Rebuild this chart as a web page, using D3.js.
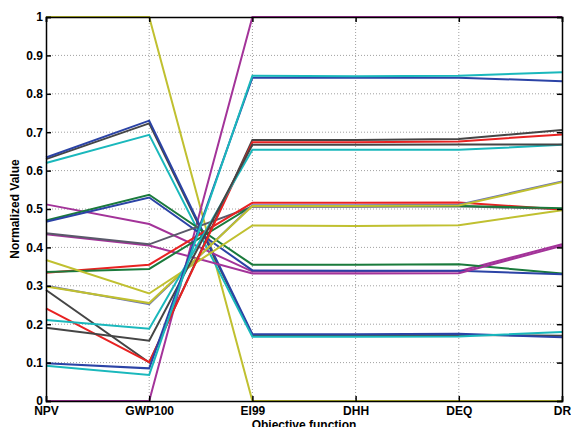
<!DOCTYPE html>
<html>
<head>
<meta charset="utf-8">
<script src="https://cdn.jsdelivr.net/npm/d3@7"></script>
<style>
  body { margin: 0; background: #fff; }
  text { font-family: "Liberation Sans", Arial, sans-serif; font-weight: bold; }
</style>
</head>
<body>
<svg id="chart" width="571" height="427"></svg>
<script>
/* Parallel plot of normalized objective values */
const categories = ["NPV", "GWP100", "EI99", "DHH", "DEQ", "DR"]
const yTickValues = [0, 0.1, 0.2, 0.3, 0.4, 0.5, 0.6, 0.7, 0.8, 0.9, 1]

const seriesColors = [
    "#c0c030", "#a33399", "#454545", "#2b43a6", "#1ab8bc", "#a33399", "#1a7a3c",
    "#2b43a6", "#a33399", "#5a5a6a", "#e82222", "#1a7a3c", "#c0c030", "#6a72b8",
    "#c0c030", "#454545", "#e82222", "#1ab8bc", "#454545", "#2b43a6", "#1ab8bc"
]

const seriesValues = [
    [1, 1, 0, 0, 0, 0],
    [0, 0, 1, 1, 1, 1],
    [0.630, 0.723, 0.171, 0.171, 0.172, 0.170],
    [0.634, 0.730, 0.174, 0.174, 0.175, 0.166],
    [0.620, 0.693, 0.167, 0.167, 0.168, 0.180],
    [0.512, 0.461, 0.337, 0.337, 0.338, 0.408],
    [0.470, 0.537, 0.355, 0.355, 0.356, 0.332],
    [0.467, 0.530, 0.340, 0.339, 0.339, 0.330],
    [0.434, 0.405, 0.332, 0.332, 0.333, 0.404],
    [0.437, 0.408, 0.506, 0.506, 0.507, 0.500],
    [0.334, 0.355, 0.516, 0.516, 0.517, 0.499],
    [0.336, 0.344, 0.508, 0.508, 0.508, 0.502],
    [0.367, 0.280, 0.457, 0.456, 0.458, 0.497],
    [0.300, 0.252, 0.510, 0.510, 0.511, 0.572],
    [0.298, 0.255, 0.508, 0.508, 0.509, 0.570],
    [0.289, 0.100, 0.680, 0.680, 0.682, 0.706],
    [0.241, 0.101, 0.674, 0.674, 0.676, 0.694],
    [0.211, 0.188, 0.654, 0.654, 0.654, 0.667],
    [0.191, 0.157, 0.667, 0.667, 0.668, 0.668],
    [0.098, 0.085, 0.842, 0.842, 0.842, 0.833],
    [0.092, 0.068, 0.847, 0.846, 0.847, 0.856]
]

const plotLeft = 46, plotRight = 562, plotTop = 17, plotBottom = 401

const x = d3.scalePoint().domain(categories).range([plotLeft, plotRight])
const y = d3.scaleLinear().domain([0, 1]).range([plotBottom, plotTop])

const svg = d3.select("#chart")

// grid
svg.append("g")
    .selectAll("line")
    .data(yTickValues.slice(1, -1))
    .enter()
    .append("line")
    .attr("x1", plotLeft).attr("x2", plotRight)
    .attr("y1", d => y(d)).attr("y2", d => y(d))
    .attr("stroke", "#a0a0a0")
    .attr("stroke-dasharray", "1,2")

svg.append("g")
    .selectAll("line")
    .data(categories.slice(1, -1))
    .enter()
    .append("line")
    .attr("x1", d => x(d)).attr("x2", d => x(d))
    .attr("y1", plotTop).attr("y2", plotBottom)
    .attr("stroke", "#a0a0a0")
    .attr("stroke-dasharray", "1,2")

// lines
const line = d3.line()
    .x((d, i) => x(categories[i]))
    .y(d => y(d))

svg.append("g")
    .selectAll("path")
    .data(seriesValues)
    .enter()
    .append("path")
    .attr("d", line)
    .attr("fill", "none")
    .attr("stroke", (d, i) => seriesColors[i])
    .attr("stroke-width", 2)

// axes
const fmt = d3.format(".1~f")

const styleAxis = g => {
    g.select(".domain").attr("stroke", "#000").attr("stroke-width", 1.5)
    g.selectAll(".tick line").attr("stroke", "#000").attr("stroke-width", 1.5)
    g.selectAll("text").attr("fill", "#000").attr("font-size", 12)
        .attr("font-family", "'Liberation Sans', Arial, sans-serif")
        .attr("font-weight", "bold")
}

svg.append("g")
    .attr("transform", "translate(" + plotLeft + ",0)")
    .call(d3.axisLeft(y).tickValues(yTickValues).tickFormat(fmt).tickSize(-5).tickPadding(3))
    .call(styleAxis)

svg.append("g")
    .attr("transform", "translate(" + plotRight + ",0)")
    .call(d3.axisRight(y).tickValues(yTickValues).tickFormat("").tickSize(-5))
    .call(styleAxis)

svg.append("g")
    .attr("transform", "translate(0," + plotBottom + ")")
    .call(d3.axisBottom(x).tickSize(-5).tickPadding(5))
    .call(styleAxis)

svg.append("g")
    .attr("transform", "translate(0," + plotTop + ")")
    .call(d3.axisTop(x).tickSize(-5).tickFormat(""))
    .call(styleAxis)

// labels
svg.append("text")
    .attr("transform", "translate(19," + ((plotTop + plotBottom) / 2) + ") rotate(-90)")
    .attr("text-anchor", "middle")
    .attr("font-size", 12)
    .text("Normalized Value")

svg.append("text")
    .attr("x", (plotLeft + plotRight) / 2)
    .attr("y", 429)
    .attr("text-anchor", "middle")
    .attr("font-size", 12)
    .text("Objective function")
</script>
</body>
</html>
